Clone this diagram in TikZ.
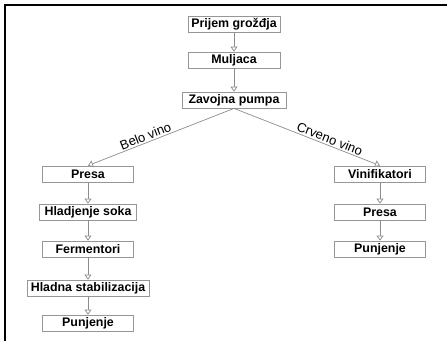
\documentclass[tikz,border=0pt]{standalone}
\usepackage{fontspec}
\setmainfont{Liberation Sans}
\usetikzlibrary{arrows.meta}
\definecolor{boxgray}{RGB}{150,150,150}
\definecolor{linegray}{RGB}{140,140,140}
\begin{document}
\begin{tikzpicture}[x=1pt,y=-1pt,
  box/.style={draw=boxgray, line width=0.8pt, fill=white, minimum height=16pt, inner sep=0pt,
    font=\fontsize{12.4}{12.4}\selectfont\bfseries, text=black},
  flow/.style={draw=linegray, line width=0.7pt,
    -{Triangle[open,length=5pt,width=7pt,fill=white]}},
  lbl/.style={font=\fontsize{13}{13}\selectfont, sloped, above, inner sep=1.5pt, text=black}]
\useasboundingbox (0,0) rectangle (447,341);
\draw[line width=2pt] (5,341) -- (5,5) -- (447,5);

\node[box, minimum width=92pt] (p1) at (234,24) {Prijem grožđja};
\node[box, minimum width=92pt] (p2) at (234,60) {Muljaca};
\node[box, minimum width=104pt] (p3) at (234,100) {Zavojna pumpa};

\node[box, minimum width=91pt] (l1) at (88,174) {Presa};
\node[box, minimum width=97pt] (l2) at (88,212) {Hladjenje soka};
\node[box, minimum width=91pt] (l3) at (88,249) {Fermentori};
\node[box, minimum width=122pt] (l4) at (88,288) {Hladna stabilizacija};
\node[box, minimum width=91pt] (l5) at (88,323) {Punjenje};

\node[box, minimum width=91pt] (r1) at (380,174) {Vinifikatori};
\node[box, minimum width=91pt] (r2) at (380,212) {Presa};
\node[box, minimum width=91pt] (r3) at (380,249) {Punjenje};

\draw[flow] (p1) -- (p2);
\draw[flow] (p2) -- (p3);
\draw[flow] (p3.south) -- node[lbl, pos=0.59] {Belo vino} (l1.north);
\draw[flow] (p3.south) -- node[lbl, pos=0.64] {Crveno vino} (r1.north);
\draw[flow] (l1) -- (l2);
\draw[flow] (l2) -- (l3);
\draw[flow] (l3) -- (l4);
\draw[flow] (l4) -- (l5);
\draw[flow] (r1) -- (r2);
\draw[flow] (r2) -- (r3);
\end{tikzpicture}
\end{document}
